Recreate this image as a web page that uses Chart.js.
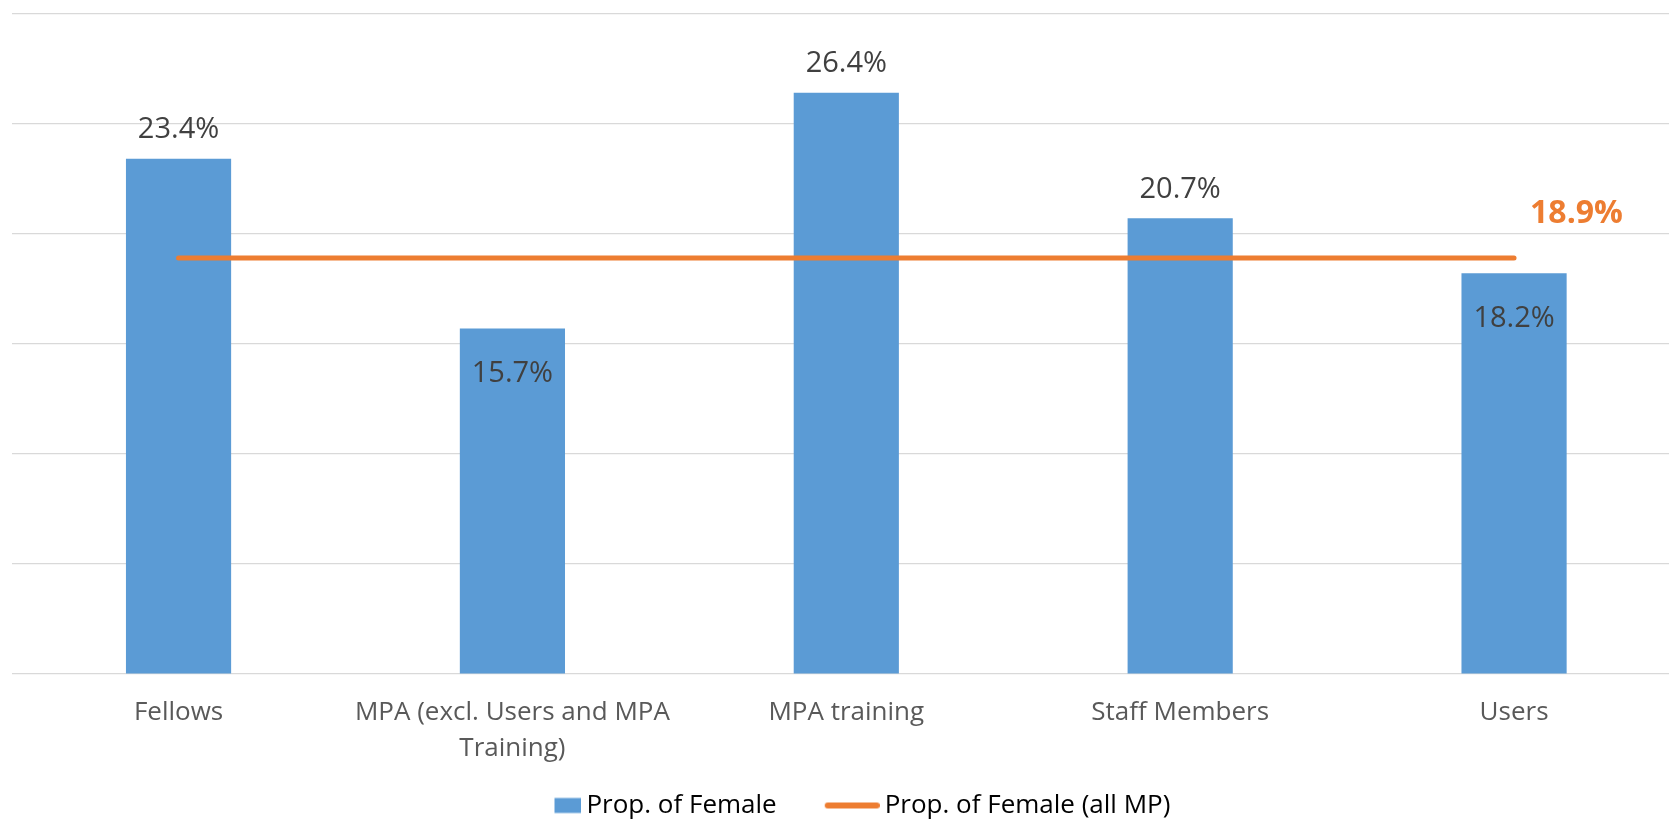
<!DOCTYPE html>
<html>
<head>
<meta charset="utf-8">
<title>Prop. of Female</title>
<script src="https://cdn.jsdelivr.net/npm/chart.js@4.4.0/dist/chart.umd.min.js"></script>
<style>
  html, body { margin: 0; padding: 0; background: #fff; overflow: hidden; }
  #wrap { width: 1669px; height: 821px; overflow: hidden; }
</style>
</head>
<body>
<div id="wrap"><canvas id="myChart" width="1681" height="821"></canvas></div>
<script>
// dados do grafico
const categorias = ["Fellows", ["MPA (excl. Users and MPA", "Training)"], "MPA training", "Staff Members", "Users"];
const propFemale = [23.4, 15.7, 26.4, 20.7, 18.2];
const propFemaleAllMP = [18.9, 18.9, 18.9, 18.9, 18.9];
const nomesSeries = ["Prop. of Female", "Prop. of Female (all MP)"];
const posicaoRotulo = ["above", "inside", "above", "above", "inside"];
const yMin = 0;
const yMax = 30;
const yPasso = 5;

const corBarra = "#5B9BD5";
const corLinha = "#ED7D31";

Chart.defaults.font.family = "'Open Sans', 'Noto Sans', sans-serif";

// icones da legenda (retangulo e linha), alinhados a direita
function criarIcone(tipo) {
  const c = document.createElement("canvas");
  c.width = 101;
  c.height = 20;
  const g = c.getContext("2d");
  if (tipo == "bar") {
    g.fillStyle = corBarra;
    g.fillRect(101 - 27, 2.5, 27, 15);
  } else {
    g.strokeStyle = corLinha;
    g.lineWidth = 6;
    g.lineCap = "round";
    g.beginPath();
    g.moveTo(101 - 55 + 3, 10);
    g.lineTo(101 - 3, 10);
    g.stroke();
  }
  return c;
}

// rotulos de dados (valores em %)
const rotulosPlugin = {
  id: "rotulos",
  afterDatasetsDraw(chart) {
    const ctx = chart.ctx;
    ctx.save();
    ctx.textAlign = "center";
    ctx.textBaseline = "middle";
    ctx.font = "29px 'Open Sans'";
    ctx.fillStyle = "#404040";
    const barras = chart.getDatasetMeta(1).data;
    barras.forEach((bar, i) => {
      let y = posicaoRotulo[i] == "inside" ? bar.y + 45 : bar.y - 29;
      ctx.fillText(propFemale[i].toFixed(1) + "%", bar.x, y);
    });

    const pontos = chart.getDatasetMeta(0).data;
    const ultimo = pontos[pontos.length - 1];
    ctx.font = "bold 32px 'Open Sans'";
    ctx.fillStyle = corLinha;
    ctx.textAlign = "left";
    ctx.fillText(propFemaleAllMP[propFemaleAllMP.length - 1].toFixed(1) + "%", ultimo.x + 16, ultimo.y - 44);
    ctx.restore();
  }
};

function plotarGrafico() {
  const dados = {
    labels: categorias,
    datasets: [
      {
        type: "line",
        label: nomesSeries[1],
        data: propFemaleAllMP,
        borderColor: corLinha,
        backgroundColor: corLinha,
        borderWidth: 5,
        borderCapStyle: "round",
        pointRadius: 0,
        fill: false,
        order: 0,
      },
      {
        type: "bar",
        label: nomesSeries[0],
        data: propFemale,
        backgroundColor: corBarra,
        barPercentage: 0.315,
        categoryPercentage: 1,
        order: 1,
      },
    ],
  };

  const icones = [criarIcone("bar"), criarIcone("line")];

  const config = {
    data: dados,
    options: {
      responsive: false,
      animation: false,
      layout: {
        padding: { left: 11.6, right: 0, top: 13.5, bottom: -7.5 },
      },
      scales: {
        x: {
          grid: { display: false, drawTicks: false },
          border: { display: false },
          ticks: {
            color: "#595959",
            font: { size: 26, lineHeight: 1.4 },
            padding: 20,
            autoSkip: false,
            maxRotation: 0,
            minRotation: 0,
          },
          afterFit: (scale) => {
            scale.height = 108.4;
          },
        },
        y: {
          min: yMin,
          max: yMax,
          ticks: { display: false, stepSize: yPasso },
          grid: { color: "#d9d9d9", lineWidth: 1.3, drawTicks: false },
          border: { display: false },
        },
      },
      plugins: {
        tooltip: { enabled: false },
        legend: {
          position: "bottom",
          labels: {
            color: "#595959",
            font: { size: 26 },
            usePointStyle: true,
            pointStyleWidth: 85,
            padding: 10,
            // espacos no fim so para centralizar a legenda como no original
            generateLabels: () => nomesSeries.map((nome, i) => ({
              text: i == 1 ? nome + "     " : nome,
              pointStyle: icones[i],
              fillStyle: i == 0 ? corBarra : corLinha,
              strokeStyle: i == 0 ? corBarra : corLinha,
              lineWidth: 0,
              hidden: false,
              datasetIndex: i == 0 ? 1 : 0,
            })),
          },
        },
      },
    },
    plugins: [rotulosPlugin],
  };

  new Chart(document.getElementById("myChart"), config);
}

plotarGrafico();
</script>
</body>
</html>
